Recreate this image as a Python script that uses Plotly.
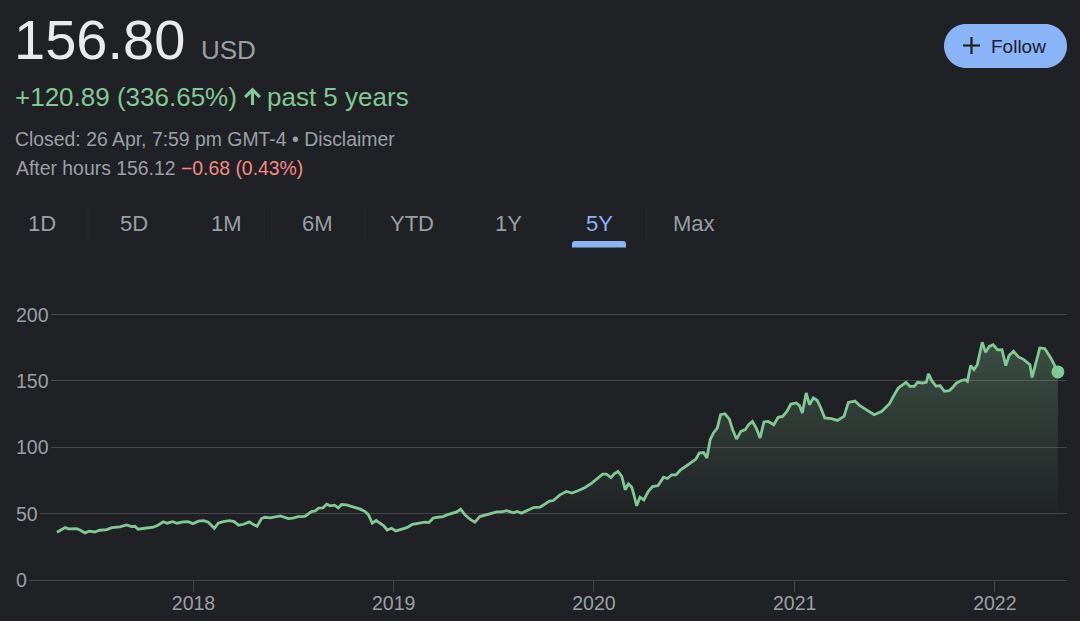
import plotly.graph_objects as go

# ── Data (USD)
dates = [
    "2017-04-27", "2017-05-12", "2017-05-18", "2017-06-02", "2017-06-08", "2017-06-17",
    "2017-06-25", "2017-07-05", "2017-07-14", "2017-07-27", "2017-08-05", "2017-08-20",
    "2017-09-01", "2017-09-10", "2017-09-16", "2017-09-22", "2017-10-04", "2017-10-20",
    "2017-10-29", "2017-11-07", "2017-11-14", "2017-11-24", "2017-12-02", "2017-12-13",
    "2017-12-22", "2017-12-31",
    "2018-01-10", "2018-01-20", "2018-01-28", "2018-02-08", "2018-02-15", "2018-02-24",
    "2018-03-08", "2018-03-16", "2018-03-24", "2018-04-02", "2018-04-13", "2018-04-20",
    "2018-04-27", "2018-05-05", "2018-05-11", "2018-05-21", "2018-06-08", "2018-06-14",
    "2018-06-23", "2018-07-01", "2018-07-11", "2018-07-23", "2018-08-04", "2018-08-11",
    "2018-08-17", "2018-08-25", "2018-09-01", "2018-09-07", "2018-09-15", "2018-09-22",
    "2018-09-28", "2018-10-07", "2018-10-19", "2018-11-01", "2018-11-10", "2018-11-16",
    "2018-11-23", "2018-11-30", "2018-12-07", "2018-12-14", "2018-12-20", "2018-12-28",
    "2019-01-05", "2019-01-16", "2019-01-25", "2019-02-04", "2019-02-15", "2019-02-27",
    "2019-03-06", "2019-03-14", "2019-03-23", "2019-04-01", "2019-04-08", "2019-04-20",
    "2019-04-26", "2019-05-03", "2019-05-11", "2019-05-20", "2019-05-29", "2019-06-07",
    "2019-06-17", "2019-06-27", "2019-07-08", "2019-07-17", "2019-07-26", "2019-08-07",
    "2019-08-14", "2019-08-22", "2019-09-01", "2019-09-13", "2019-09-25", "2019-10-04",
    "2019-10-12", "2019-10-19", "2019-10-31", "2019-11-12", "2019-11-22", "2019-12-04",
    "2019-12-16", "2019-12-28",
    "2020-01-06", "2020-01-17", "2020-01-24", "2020-02-01", "2020-02-07", "2020-02-14",
    "2020-02-21", "2020-02-27", "2020-03-04", "2020-03-10", "2020-03-14", "2020-03-19",
    "2020-03-25", "2020-04-01", "2020-04-09", "2020-04-17", "2020-04-27", "2020-05-07",
    "2020-05-14", "2020-05-22", "2020-05-30", "2020-06-07", "2020-06-18", "2020-06-27",
    "2020-07-05", "2020-07-11", "2020-07-19", "2020-07-25", "2020-07-31", "2020-08-06",
    "2020-08-13", "2020-08-19", "2020-08-27", "2020-09-04", "2020-09-10", "2020-09-17",
    "2020-09-25", "2020-10-03", "2020-10-09", "2020-10-16", "2020-10-23", "2020-10-30",
    "2020-11-06", "2020-11-14", "2020-11-24", "2020-12-02", "2020-12-10", "2020-12-18",
    "2020-12-25",
    "2021-01-04", "2021-01-10", "2021-01-15", "2021-01-22", "2021-01-28", "2021-02-04",
    "2021-02-11", "2021-02-17", "2021-02-25", "2021-03-09", "2021-03-20", "2021-04-01",
    "2021-04-09", "2021-04-21", "2021-04-30", "2021-05-12", "2021-05-26", "2021-06-09",
    "2021-06-23", "2021-06-30", "2021-07-09", "2021-07-23", "2021-07-30", "2021-08-07",
    "2021-08-13", "2021-08-22", "2021-08-29", "2021-09-02", "2021-09-08", "2021-09-16",
    "2021-09-23", "2021-10-01", "2021-10-10", "2021-10-17", "2021-10-23", "2021-11-02",
    "2021-11-08", "2021-11-12", "2021-11-18", "2021-11-24", "2021-11-30", "2021-12-09",
    "2021-12-15", "2021-12-22", "2021-12-29",
    "2022-01-06", "2022-01-14", "2022-01-21", "2022-01-27", "2022-02-04", "2022-02-13",
    "2022-02-23", "2022-03-06", "2022-03-10", "2022-03-19", "2022-03-24", "2022-04-02",
    "2022-04-13", "2022-04-26",
]
prices = [
    36.0, 39.5, 38.5, 38.7, 37.7, 35.5,
    36.8, 36.2, 37.5, 38.0, 39.5, 40.0,
    41.5, 40.3, 40.5, 38.3, 39.0, 39.8,
    41.5, 43.8, 42.8, 44.0, 42.8, 43.8,
    44.0, 42.5,
    44.3, 44.8, 43.6, 39.0, 42.8, 44.0,
    44.8, 44.0, 41.3, 42.0, 43.8, 41.8,
    40.5, 46.3, 47.3, 46.8, 48.3, 47.6,
    46.3, 46.6, 47.8, 48.0, 51.6, 52.1,
    54.1, 54.4, 57.1, 55.9, 56.4, 54.4,
    56.9, 56.6, 55.3, 53.4, 51.6, 49.1,
    42.8, 44.8, 42.8, 40.8, 37.7, 39.0,
    37.0, 38.7, 39.5, 42.0, 42.8, 43.6,
    43.3, 46.6, 47.3, 47.8, 49.1, 50.8,
    51.3, 53.4, 49.1, 45.8, 43.6, 47.8,
    49.1, 50.1, 51.3, 51.3, 52.3, 50.6,
    51.6, 50.4, 52.1, 54.6, 54.9, 57.1,
    59.4, 59.9, 64.2, 66.7, 65.5, 67.4,
    69.7, 73.0,
    76.0, 79.8, 79.8, 77.2, 80.0, 81.8,
    78.0, 68.0, 72.5, 70.0, 64.2, 55.9,
    62.4, 60.4, 66.7, 70.4, 71.2, 77.5,
    76.5, 79.3, 79.3, 83.1, 86.1, 88.6,
    91.1, 95.7, 96.1, 91.9, 105.7, 110.8,
    114.5, 124.6, 125.3, 121.3, 113.3, 106.2,
    112.0, 113.3, 117.0, 119.5, 114.5, 107.0,
    119.1, 119.5, 117.0, 122.6, 123.3, 127.1,
    132.6,
    133.4, 131.4, 125.9, 141.0, 132.1, 137.2,
    135.4, 130.4, 122.1, 121.6, 120.3, 123.3,
    133.9, 134.9, 131.4, 128.4, 124.6, 127.1,
    132.9, 138.4, 144.7, 149.0, 146.0, 146.0,
    149.0, 148.5, 149.0, 155.3, 150.2, 146.0,
    146.5, 142.2, 142.7, 145.5, 148.5, 150.5,
    151.0, 149.7, 161.6, 158.6, 162.3, 179.2,
    171.6, 176.1, 177.4,
    173.4, 173.6, 161.6, 169.1, 172.4, 168.1,
    166.1, 162.3, 152.7, 167.4, 174.9, 174.4,
    167.4, 156.8,
]

y_ticks = [0, 50, 100, 150, 200]
x_tickvals = ["2018-01-01", "2019-01-01", "2020-01-01", "2021-01-01", "2022-01-01"]
x_ticktext = ["2018", "2019", "2020", "2021", "2022"]

tabs = ["1D", "5D", "1M", "6M", "YTD", "1Y", "5Y", "Max"]
tab_x = [42, 134, 226, 317, 412, 508, 599.5, 693.5]
active_tab = "5Y"

# ── Colours / fonts
BG = "#202124"
GREEN = "#81c995"
GREY = "#9aa0a6"
BLUE = "#8ab4f8"
RED = "#f28b82"
GRID = "#45474b"
FONT = "Liberation Sans, Arial, Helvetica, sans-serif"

W, H = 1080, 621
L, R, T, B = 14, 13, 308, 41
PW = W - L - R
PH = H - T - B


def px(x):
    """page pixel x -> paper x"""
    return (x - L) / PW


def py(y):
    """page pixel y (from top) -> paper y"""
    return (H - B - y) / PH


def path(points, close=True):
    s = "M " + " L ".join(f"{px(x):.5f},{py(y):.5f}" for x, y in points)
    return s + (" Z" if close else "")


def pill(x0, y0, x1, y1):
    r = (y1 - y0) / 2
    k = 0.5523 * r
    cy = y0 + r
    p = [
        f"M {px(x0 + r):.5f},{py(y0):.5f}",
        f"L {px(x1 - r):.5f},{py(y0):.5f}",
        f"C {px(x1 - r + k):.5f},{py(y0):.5f} {px(x1):.5f},{py(cy - k):.5f} {px(x1):.5f},{py(cy):.5f}",
        f"C {px(x1):.5f},{py(cy + k):.5f} {px(x1 - r + k):.5f},{py(y1):.5f} {px(x1 - r):.5f},{py(y1):.5f}",
        f"L {px(x0 + r):.5f},{py(y1):.5f}",
        f"C {px(x0 + r - k):.5f},{py(y1):.5f} {px(x0):.5f},{py(cy + k):.5f} {px(x0):.5f},{py(cy):.5f}",
        f"C {px(x0):.5f},{py(cy - k):.5f} {px(x0 + r - k):.5f},{py(y0):.5f} {px(x0 + r):.5f},{py(y0):.5f}",
        "Z",
    ]
    return " ".join(p)


def label(x, y, text, size, color, anchor="left"):
    return dict(
        x=px(x), y=py(y), xref="paper", yref="paper",
        xanchor=anchor, yanchor="middle", text=text, showarrow=False,
        font=dict(family=FONT, size=size, color=color),
        borderpad=0, borderwidth=0,
    )


fig = go.Figure()

fig.add_trace(go.Scatter(
    x=dates, y=prices, mode="lines",
    line=dict(color=GREEN, width=2.8),
    fill="tozeroy",
    fillgradient=dict(
        type="vertical",
        colorscale=[[0, "rgba(129,201,149,0)"], [1, "rgba(129,201,149,0.28)"]],
        start=45, stop=185,
    ),
    hoverinfo="skip", showlegend=False,
))

# closing dot
fig.add_trace(go.Scatter(
    x=[dates[-1]], y=[prices[-1]], mode="markers",
    marker=dict(color=GREEN, size=13),
    hoverinfo="skip", showlegend=False,
))

annotations = []

# header
annotations.append(label(14, 39.5, "156.80", 56, "#e8eaed"))
annotations.append(label(201, 50.3, "USD", 26, GREY))
annotations.append(label(15, 97, "+120.89 (336.65%)", 26, GREEN))
annotations.append(label(267, 97, "past 5 years", 26, GREEN))
annotations.append(label(15, 139, "Closed: 26 Apr, 7:59 pm GMT-4 • Disclaimer", 19.4, GREY))
annotations.append(label(
    16, 168.4,
    f"After hours 156.12 <span style='color:{RED}'>−0.68 (0.43%)</span>", 19.4, GREY))
annotations.append(label(990.5, 46, "Follow", 19, BG))

# range tabs
for t, x in zip(tabs, tab_x):
    annotations.append(label(x, 223.4, t, 22, BLUE if t == active_tab else GREY, anchor="center"))

# y tick labels, left aligned, masking the start of each gridline
for v in y_ticks:
    annotations.append(dict(
        x=0, xref="paper", xanchor="left", y=v, yref="y", yanchor="middle",
        text=str(v), showarrow=False, bgcolor=BG, borderpad=2, borderwidth=0,
        font=dict(family=FONT, size=19.5, color=GREY),
    ))

shapes = []
# follow button
shapes.append(dict(type="path", xref="paper", yref="paper", path=pill(944, 24, 1067, 68),
                   fillcolor=BLUE, line=dict(width=0), layer="below"))
shapes.append(dict(type="line", xref="paper", yref="paper", x0=px(963), x1=px(980),
                   y0=py(45.5), y1=py(45.5), line=dict(color=BG, width=2.2)))
shapes.append(dict(type="line", xref="paper", yref="paper", x0=px(971.5), x1=px(971.5),
                   y0=py(37), y1=py(54), line=dict(color=BG, width=2.2)))

# up arrow icon
shapes.append(dict(type="path", xref="paper", yref="paper", path=path([
    (252.5, 87.5), (261, 96), (258.8, 98.2), (254, 93.4), (254, 105),
    (251, 105), (251, 93.4), (246.2, 98.2), (244, 96)]),
    fillcolor=GREEN, line=dict(width=0)))

# tab separators (barely visible)
for a, b in zip(tab_x[:-1], tab_x[1:]):
    xm = (a + b) / 2
    shapes.append(dict(type="line", xref="paper", yref="paper", x0=px(xm), x1=px(xm),
                       y0=py(206), y1=py(240), line=dict(color="#25262a", width=1)))

# active tab underline (rounded top)
x0, x1, yt, yb, r = 572, 626, 241, 247.5, 3
shapes.append(dict(type="path", xref="paper", yref="paper", path=(
    f"M {px(x0):.5f},{py(yb):.5f} L {px(x0):.5f},{py(yt + r):.5f} "
    f"Q {px(x0):.5f},{py(yt):.5f} {px(x0 + r):.5f},{py(yt):.5f} "
    f"L {px(x1 - r):.5f},{py(yt):.5f} Q {px(x1):.5f},{py(yt):.5f} {px(x1):.5f},{py(yt + r):.5f} "
    f"L {px(x1):.5f},{py(yb):.5f} Z"), fillcolor=BLUE, line=dict(width=0)))

fig.update_layout(
    width=W, height=H,
    margin=dict(l=L, r=R, t=T, b=B, pad=0, autoexpand=False),
    paper_bgcolor=BG, plot_bgcolor=BG,
    font=dict(family=FONT, color=GREY),
    showlegend=False,
    annotations=annotations,
    shapes=shapes,
    xaxis=dict(
        type="date",
        range=["2017-02-07 17:00", "2022-05-12 14:00"],
        showgrid=False, zeroline=False, automargin=False,
        showline=True, linecolor=GRID, linewidth=1,
        ticks="outside", ticklen=11, tickwidth=1, tickcolor=GRID,
        ticklabelstandoff=-5,
        tickvals=x_tickvals, ticktext=x_ticktext,
        tickfont=dict(family=FONT, size=19.5, color=GREY),
        fixedrange=True,
    ),
    yaxis=dict(
        range=[0, 205], automargin=False,
        tickvals=y_ticks, showticklabels=False,
        showgrid=True, gridcolor=GRID, gridwidth=1,
        zeroline=False, showline=False, ticks="",
        fixedrange=True,
    ),
)

fig.write_html(
    "out.html",
    config={"displayModeBar": False},
    post_script="document.body.style.margin='0';document.body.style.background='#202124';",
)
